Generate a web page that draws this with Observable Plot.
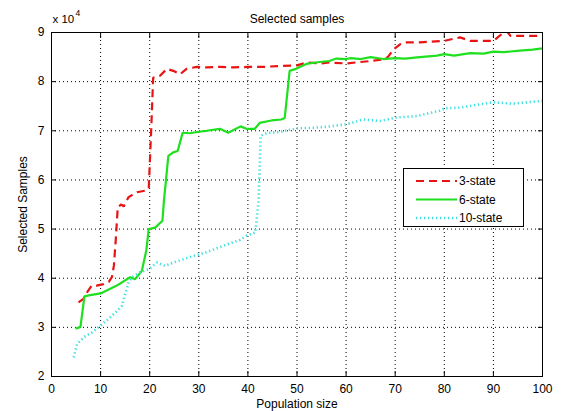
<!DOCTYPE html>
<html>
<head>
<meta charset="utf-8">
<script src="https://cdn.jsdelivr.net/npm/d3@7"></script>
<script src="https://cdn.jsdelivr.net/npm/@observablehq/plot@0.6"></script>
<style>
  html, body { margin: 0; padding: 0; background: #fff; }
  #wrap { position: relative; width: 563px; height: 411px; font-family: "Liberation Sans", Arial, sans-serif; }
  #legend { position: absolute; left: 403px; top: 168px; }
</style>
</head>
<body>
<div id="wrap"></div>
<script>
// Values in units of 10^4 selected samples
const xTicks = [0, 10, 20, 30, 40, 50, 60, 70, 80, 90, 100];
const yTicks = [2, 3, 4, 5, 6, 7, 8, 9];
const seriesNames = ["3-state", "6-state", "10-state"];

const state3X = [5.5,6.5,7.3,8.2,9.2,10.6,11.7,12.3,12.7,13.1,13.5,14.2,14.7,15.7,17.4,19,19.8,20.3,20.7,22.1,23.5,24.8,26.2,27.5,29.6,31.6,34.3,37.1,40,43.2,46.6,50,52,54.7,56.6,60,65,67.6,68.5,69.7,71,72.4,75,80,83.2,85.3,88,90,91.7,92.7,93.5,95.4,99.5,100];
const state3Y = [3.51,3.58,3.72,3.85,3.85,3.88,3.93,4.02,4.25,4.8,5.45,5.5,5.46,5.65,5.75,5.78,5.82,7.0,8.08,8.12,8.26,8.22,8.15,8.26,8.3,8.29,8.3,8.29,8.3,8.3,8.32,8.33,8.39,8.37,8.39,8.37,8.42,8.45,8.5,8.66,8.76,8.8,8.8,8.83,8.9,8.83,8.83,8.83,8.97,9.03,8.93,8.93,8.93,8.94];

const state6X = [4.9,5.9,6.7,7.6,10,13.3,16,17,18.4,19.3,19.8,21.1,22.6,22.9,23.8,24.8,25.7,26.7,28.2,30,31.6,34.3,36,38.5,39.7,41.4,42.4,44.8,46.8,47.5,48.5,49.8,51.9,54.6,56.6,58,60,61,63,65,67.6,70,72,75,78.5,80,82,85.3,88,90,92,95.4,98,100];
const state6Y = [2.97,3.01,3.63,3.65,3.69,3.85,4.02,3.98,4.15,4.56,5.0,5.03,5.17,5.58,6.49,6.56,6.59,6.96,6.95,6.98,7.0,7.04,6.96,7.09,7.04,7.04,7.16,7.21,7.23,7.26,8.22,8.26,8.36,8.4,8.42,8.47,8.46,8.48,8.46,8.5,8.46,8.48,8.47,8.5,8.53,8.56,8.53,8.58,8.57,8.61,8.6,8.63,8.65,8.68];

const state10X = [4.5,5.2,6.6,8.3,9.9,11.6,13,14.3,15,15.7,16.4,18,19.8,21.5,23.1,24.8,28.2,31.6,35,38.4,39.8,41.5,42.2,42.6,43.8,46.6,50,53.4,56.7,60,63.5,66.9,70.3,74.4,79.1,80.2,83.2,87.3,90,94,100];
const state10Y = [2.39,2.66,2.8,2.9,3.03,3.17,3.3,3.43,3.67,3.91,4.02,4.12,4.18,4.32,4.25,4.32,4.43,4.53,4.66,4.78,4.87,4.93,5.6,6.9,6.95,6.98,7.05,7.06,7.09,7.13,7.23,7.2,7.27,7.3,7.41,7.46,7.47,7.54,7.58,7.55,7.61];

const colors = ["#e81414", "#1fe01f", "#40e0e0"];
const dashes = ["8,5", null, "1.3,2.7"];
const widths = [2.2, 2.2, 2.6];

const toRows = (xs, ys) => xs.map((x, i) => ({x, y: ys[i]}));
const rows = [toRows(state3X, state3Y), toRows(state6X, state6Y), toRows(state10X, state10Y)];

const font = "Liberation Sans, Arial, sans-serif";

const chart = Plot.plot({
  width: 563,
  height: 411,
  marginLeft: 51,
  marginRight: 21,
  marginTop: 32,
  marginBottom: 35,
  style: {fontFamily: font, fontSize: "11.5px", color: "#000", background: "#fff"},
  x: {domain: [0, 100], ticks: xTicks},
  y: {domain: [2, 9], ticks: yTicks},
  marks: [
    Plot.gridX(xTicks, {stroke: "#000", strokeOpacity: 1, strokeDasharray: "1,3"}),
    Plot.gridY(yTicks, {stroke: "#000", strokeOpacity: 1, strokeDasharray: "1,3"}),
    ...rows.map((r, i) => Plot.line(r, {x: "x", y: "y", stroke: colors[i], strokeWidth: widths[i], strokeDasharray: dashes[i], strokeLinecap: "butt", strokeLinejoin: "miter", clip: true})),
    Plot.frame({stroke: "#000", strokeWidth: 1}),
    Plot.axisX(xTicks, {anchor: "bottom", tickSize: 0, tickPadding: 8, label: "Population size", labelAnchor: "center", labelArrow: "none", labelOffset: 31, fontSize: 12}),
    Plot.axisX(xTicks, {anchor: "bottom", tickSize: -5, tickFormat: () => "", label: null}),
    Plot.axisX(xTicks, {anchor: "top", tickSize: -5, tickFormat: () => "", label: null}),
    Plot.axisY(yTicks, {anchor: "left", tickSize: 0, tickPadding: 7, label: "Selected Samples", labelAnchor: "center", labelArrow: "none", labelOffset: 33, fontSize: 12}),
    Plot.axisY(yTicks, {anchor: "left", tickSize: -5, tickFormat: () => "", label: null}),
    Plot.axisY(yTicks, {anchor: "right", tickSize: -5, tickFormat: () => "", label: null}),
    Plot.text(["Selected samples"], {frameAnchor: "top", dy: -10, lineAnchor: "bottom", fontSize: 12}),
    Plot.text(["x 10"], {frameAnchor: "top-left", dx: 1, dy: -10, textAnchor: "start", lineAnchor: "bottom", fontSize: 11.5}),
    Plot.text(["4"], {frameAnchor: "top-left", dx: 24, dy: -17, textAnchor: "start", lineAnchor: "bottom", fontSize: 8.5})
  ]
});

const wrap = document.getElementById("wrap");
wrap.appendChild(chart);

// Legend box
const lg = d3.create("svg").attr("id", "legend").attr("width", 122).attr("height", 60)
  .style("font-family", font).style("font-size", "12px");
lg.append("rect").attr("x", 0.5).attr("y", 0.5).attr("width", 120).attr("height", 58)
  .attr("fill", "#fff").attr("stroke", "#000");
seriesNames.forEach((name, i) => {
  const yy = 13 + i * 18.5;
  lg.append("line").attr("x1", 13).attr("x2", 54).attr("y1", yy).attr("y2", yy)
    .attr("stroke", colors[i]).attr("stroke-width", widths[i])
    .attr("stroke-dasharray", dashes[i]);
  lg.append("text").attr("x", 56).attr("y", yy).attr("dy", "0.36em").text(name);
});
wrap.appendChild(lg.node());
</script>
</body>
</html>
